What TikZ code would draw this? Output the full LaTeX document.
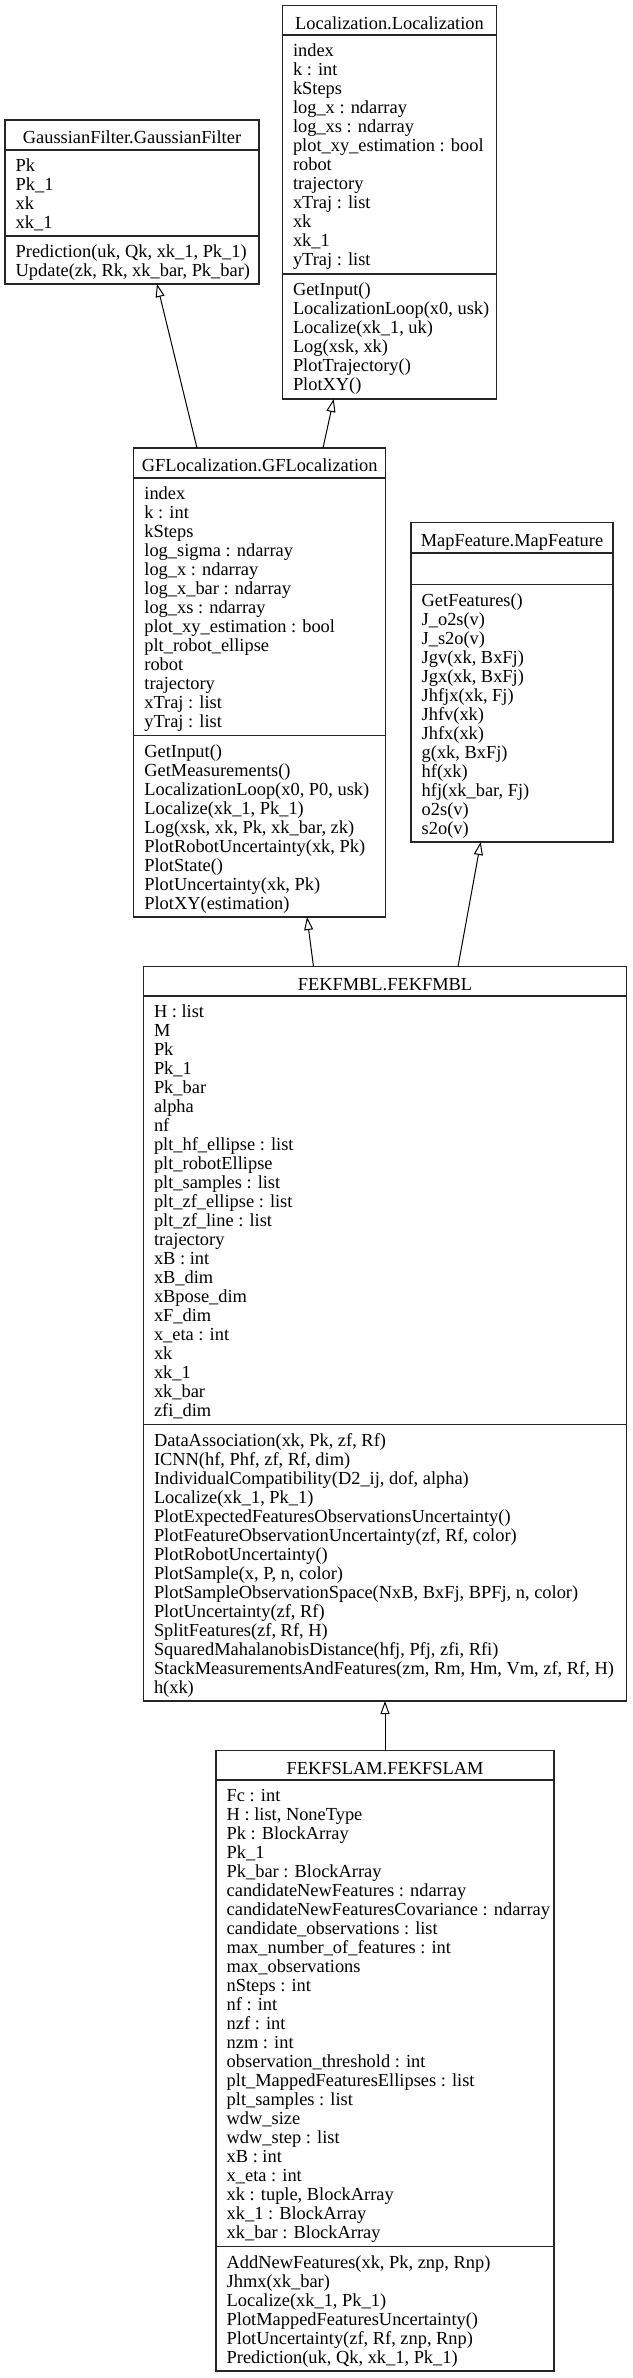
\documentclass[tikz,border=0pt]{standalone}
\usepackage{fontspec}
\setmainfont{Liberation Serif}
\usetikzlibrary{arrows.meta,calc}
\newcommand\umlfont{\fontsize{18.4}{19}\selectfont}
% #1 prefix, #2 x, #3 first baseline y, #4 list of lines
\newcommand\umllines[4]{%
  \foreach \t [count=\i] in {#4} {%
    \node[txt] (#1\i) at ({#2},{#3+19*(\i-1)}) {\t};}}
% #1 name, #2 x, #3 y(top), #4 width, #5 height, #6 sep1 offset, #7 sep2 offset
\newcommand\umlbox[7]{%
  \node[box, minimum width=#4pt, minimum height=#5pt, anchor=north west] (#1) at (#2,#3) {};
  \draw[sepline] ($(#1.north west)+(0,#6)$) -- ($(#1.north east)+(0,#6)$);
  \draw[sepline] ($(#1.north west)+(0,#7)$) -- ($(#1.north east)+(0,#7)$);}
\begin{document}
\begin{tikzpicture}[x=1pt,y=-1pt,
  box/.style={draw=black!85, line width=1.2pt, inner sep=0pt, outer sep=0pt, fill=none},
  sepline/.style={draw=black!85, line width=1.2pt},
  txt/.style={anchor=base west, inner sep=0pt, font=\umlfont},
  ttl/.style={anchor=base, inner sep=0pt, font=\umlfont},
  inherit/.style={draw=black, line width=1pt, -{Triangle[open, length=13pt, width=9pt, fill=white]}}]
\useasboundingbox (0,0) rectangle (632,2378);

% Localization
\umlbox{loc}{282.3}{5.7}{214.4}{393.3}{29.3}{268.3}
\node[ttl] (locT) at (389.5,29.3) {Localization.Localization};
\umllines{locA}{292.8}{56.7}{index,k : int,kSteps,log\_x : ndarray,log\_xs : ndarray,plot\_xy\_estimation : bool,robot,trajectory,xTraj : list,xk,xk\_1,yTraj : list}
\umllines{locM}{292.8}{295.7}{GetInput(),{LocalizationLoop(x0, usk)},{Localize(xk\_1, uk)},{Log(xsk, xk)},PlotTrajectory(),PlotXY()}

% GaussianFilter
\umlbox{gau}{5}{120}{254}{164}{30}{116}
\node[ttl] (gauT) at (132,143.5) {GaussianFilter.GaussianFilter};
\umllines{gauA}{15.5}{171.7}{Pk,Pk\_1,xk,xk\_1}
\umllines{gauM}{15.5}{257.7}{{Prediction(uk, Qk, xk\_1, Pk\_1)},{Update(zk, Rk, xk\_bar, Pk\_bar)}}

% GFLocalization
\umlbox{gfl}{133.7}{448}{252}{469}{30}{287.5}
\node[ttl] (gflT) at (259.7,471.5) {GFLocalization.GFLocalization};
\umllines{gflA}{144.2}{499.7}{index,k : int,kSteps,log\_sigma : ndarray,log\_x : ndarray,log\_x\_bar : ndarray,log\_xs : ndarray,plot\_xy\_estimation : bool,plt\_robot\_ellipse,robot,trajectory,xTraj : list,yTraj : list}
\umllines{gflM}{144.2}{757.2}{GetInput(),GetMeasurements(),{LocalizationLoop(x0, P0, usk)},{Localize(xk\_1, Pk\_1)},{Log(xsk, xk, Pk, xk\_bar, zk)},{PlotRobotUncertainty(xk, Pk)},PlotState(),{PlotUncertainty(xk, Pk)},PlotXY(estimation)}

% MapFeature
\umlbox{map}{411}{522.5}{202}{319.5}{30.5}{61.8}
\node[ttl] (mapT) at (512,546) {MapFeature.MapFeature};
\umllines{mapM}{421.5}{606}{GetFeatures(),J\_o2s(v),J\_s2o(v),{Jgv(xk, BxFj)},{Jgx(xk, BxFj)},{Jhfjx(xk, Fj)},Jhfv(xk),Jhfx(xk),{g(xk, BxFj)},hf(xk),{hfj(xk\_bar, Fj)},o2s(v),s2o(v)}

% FEKFMBL
\umlbox{mbl}{143.3}{966.7}{483.4}{734.3}{29.3}{457.7}
\node[ttl] (mblT) at (385,990.2) {FEKFMBL.FEKFMBL};
\umllines{mblA}{153.8}{1017.7}{H : list,M,Pk,Pk\_1,Pk\_bar,alpha,nf,plt\_hf\_ellipse : list,plt\_robotEllipse,plt\_samples : list,plt\_zf\_ellipse : list,plt\_zf\_line : list,trajectory,xB : int,xB\_dim,xBpose\_dim,xF\_dim,x\_eta : int,xk,xk\_1,xk\_bar,zfi\_dim}
\umllines{mblM}{153.8}{1446.1}{{DataAssociation(xk, Pk, zf, Rf)},{ICNN(hf, Phf, zf, Rf, dim)},{IndividualCompatibility(D2\_ij, dof, alpha)},{Localize(xk\_1, Pk\_1)},PlotExpectedFeaturesObservationsUncertainty(),{PlotFeatureObservationUncertainty(zf, Rf, color)},PlotRobotUncertainty(),{PlotSample(x, P, n, color)},{PlotSampleObservationSpace(NxB, BxFj, BPFj, n, color)},{PlotUncertainty(zf, Rf)},{SplitFeatures(zf, Rf, H)},{SquaredMahalanobisDistance(hfj, Pfj, zfi, Rfi)},{StackMeasurementsAndFeatures(zm, Rm, Hm, Vm, zf, Rf, H)},h(xk)}

% FEKFSLAM
\umlbox{slam}{216}{1750.6}{338}{620.4}{29.4}{496}
\node[ttl] (slamT) at (385,1774.1) {FEKFSLAM.FEKFSLAM};
\umllines{slamA}{226.5}{1801.7}{Fc : int,{H : list, NoneType},Pk : BlockArray,Pk\_1,Pk\_bar : BlockArray,candidateNewFeatures : ndarray,candidateNewFeaturesCovariance : ndarray,candidate\_observations : list,max\_number\_of\_features : int,max\_observations,nSteps : int,nf : int,nzf : int,nzm : int,observation\_threshold : int,plt\_MappedFeaturesEllipses : list,plt\_samples : list,wdw\_size,wdw\_step : list,xB : int,x\_eta : int,{xk : tuple, BlockArray},xk\_1 : BlockArray,xk\_bar : BlockArray}
\umllines{slamM}{226.5}{2268.3}{{AddNewFeatures(xk, Pk, znp, Rnp)},Jhmx(xk\_bar),{Localize(xk\_1, Pk\_1)},PlotMappedFeaturesUncertainty(),{PlotUncertainty(zf, Rf, znp, Rnp)},{Prediction(uk, Qk, xk\_1, Pk\_1)}}

% connector end points
\coordinate (gflTopL) at (197,448);
\coordinate (gauTip) at (157,284);
\coordinate (gflTopR) at (323,448);
\coordinate (locTip) at (333.7,399);
\coordinate (mblTopL) at (313.5,966.7);
\coordinate (gflTip) at (307,917);
\coordinate (mblTopR) at (458,966.7);
\coordinate (mapTip) at (480.7,842);
\coordinate (slamTop) at (385,1750.6);
\coordinate (mblTip) at (385,1701);

\draw[inherit] (gflTopL) -- (gauTip);
\draw[inherit] (gflTopR) -- (locTip);
\draw[inherit] (mblTopL) -- (gflTip);
\draw[inherit] (mblTopR) -- (mapTip);
\draw[inherit] (slamTop) -- (mblTip);
\end{tikzpicture}
\end{document}
